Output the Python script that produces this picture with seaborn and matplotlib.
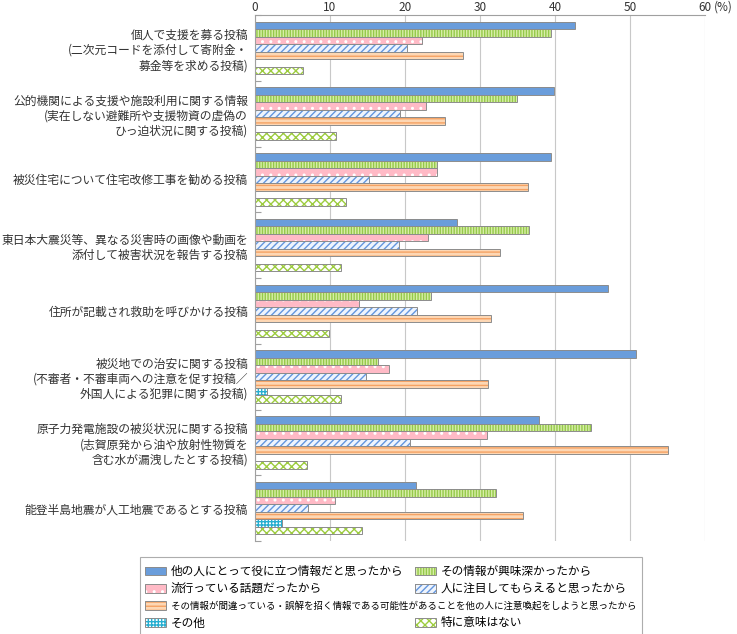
import matplotlib.pyplot as plt
import numpy as np
import pandas as pd
import seaborn as sns
from matplotlib.legend_handler import HandlerPatch
from matplotlib.patches import Patch, Rectangle

categories = [
    '個人で支援を募る投稿\n(二次元コードを添付して寄附金・\n募金等を求める投稿)',
    '公的機関による支援や施設利用に関する情報\n(実在しない避難所や支援物資の虚偽の\nひっ迫状況に関する投稿)',
    '被災住宅について住宅改修工事を勧める投稿',
    '東日本大震災等、異なる災害時の画像や動画を\n添付して被害状況を報告する投稿',
    '住所が記載され救助を呼びかける投稿',
    '被災地での治安に関する投稿\n(不審者・不審車両への注意を促す投稿／\n外国人による犯罪に関する投稿)',
    '原子力発電施設の被災状況に関する投稿\n(志賀原発から油や放射性物質を\n含む水が漏洩したとする投稿)',
    '能登半島地震が人工地震であるとする投稿',
]
reasons = [
    '他の人にとって役に立つ情報だと思ったから',
    'その情報が興味深かったから',
    '流行っている話題だったから',
    '人に注目してもらえると思ったから',
    'その情報が間違っている・誤解を招く情報である可能性があることを他の人に注意喚起をしようと思ったから',
    'その他',
    '特に意味はない',
]

useful = [42.6, 39.9, 39.4, 26.9, 47.1, 50.8, 37.9, 21.4]
interesting = [39.4, 34.9, 24.2, 36.5, 23.5, 16.4, 44.8, 32.1]
trending = [22.3, 22.8, 24.2, 23.1, 13.8, 17.9, 30.9, 10.7]
attention = [20.2, 19.3, 15.2, 19.2, 21.6, 14.8, 20.7, 7.1]
warning = [27.7, 25.3, 36.4, 32.7, 31.4, 31.1, 55.1, 35.7]
other = [0, 0, 0, 0, 0, 1.6, 0, 3.6]
no_reason = [6.4, 10.8, 12.1, 11.4, 9.8, 11.4, 6.9, 14.3]
series = [useful, interesting, trending, attention, warning, other, no_reason]

x_ticks = [0, 10, 20, 30, 40, 50, 60]

# face colour, hatch, hatch colour
styles = [
    ('#6a9ddb', '', '#6a9ddb'),
    ('#d8eea8', '||||||', '#95c94a'),
    ('#ffbac6', '..', 'white'),
    ('#eef4fd', '/////', '#6396df'),
    ('#fdd7b4', '----', '#f5a263'),
    ('white', '+++++', '#27aed0'),
    ('white', 'xxxx', '#9dcc3f'),
]
outline = '#8c8c8c'

plt.rcParams['font.family'] = ['Noto Sans CJK JP', 'DejaVu Sans']
plt.rcParams['hatch.linewidth'] = 1.0

rows = []
for reason, vals in zip(reasons, series):
    for cat, v in zip(categories, vals):
        rows.append({'category': cat, 'reason': reason, 'value': v})
df = pd.DataFrame(rows)

fig = plt.figure(figsize=(7.37, 6.34), dpi=100)
ax = fig.add_axes([255 / 737, 1 - 541 / 634, 450 / 737, 526 / 634])

sns.barplot(data=df, y='category', x='value', hue='reason', order=categories, hue_order=reasons,
            orient='h', width=0.8, saturation=1, legend=False, ax=ax)

for cont, (face, hatch, hcol) in zip(ax.containers, styles):
    for bar in cont:
        bar.set_facecolor(face)
        bar.set_hatch(hatch)
        bar.set_edgecolor(hcol)
        bar.set_linewidth(0)
        if bar.get_width() > 0:
            ax.add_patch(Rectangle(bar.get_xy(), bar.get_width(), bar.get_height(), fill=False,
                                   edgecolor=outline, lw=0.7, zorder=bar.get_zorder() + 0.1))

ax.set_xlim(0, 60)
ax.set_ylim(7.5, -0.5)
ax.set_xticks(x_ticks)
ax.set_xticklabels([str(t) for t in x_ticks])
ax.xaxis.tick_top()
ax.tick_params(axis='x', length=0, pad=0.5, labelsize=8.5, labelcolor='#333333')
ax.annotate('(%)', xy=(1, 1), xycoords='axes fraction', xytext=(9, 1), textcoords='offset pixels',
            ha='left', va='bottom', fontsize=8.5, color='#333333')
ax.grid(axis='x', color='#c8c8c8', lw=0.8)
ax.set_axisbelow(True)
ax.set_xlabel('')
ax.set_ylabel('')

ax.set_yticks(range(len(categories)))
ax.set_yticklabels(categories, fontsize=8.5, color='#333333', linespacing=1.22)
ax.set_yticks(np.arange(-0.5, len(categories), 1), minor=True)
ax.tick_params(axis='y', which='major', length=0, pad=5)
ax.tick_params(axis='y', which='minor', length=4, direction='in', color='#a0a0a0', width=0.8)

for side in ['right', 'bottom']:
    ax.spines[side].set_visible(False)
for side in ['top', 'left']:
    ax.spines[side].set_color('#a0a0a0')
    ax.spines[side].set_linewidth(0.8)


def small_box(legend, orig_handle, xdescent, ydescent, width, height, fontsize):
    h = 0.75 * fontsize
    return Rectangle((-xdescent, -ydescent + (height - h) / 2), width, h)


def handle(i):
    face, hatch, hcol = styles[i]
    return (Patch(facecolor=face, hatch=hatch, edgecolor=hcol, lw=0),
            Patch(facecolor='none', edgecolor=outline, lw=0.7))


leg_kw = dict(loc='upper left', fontsize=8.4, handlelength=1.75, handleheight=1.9,
              handletextpad=0.45, labelspacing=0.0, borderpad=0.45, borderaxespad=0,
              handler_map={Patch: HandlerPatch(patch_func=small_box)})
leg_a = fig.legend([handle(0), handle(2), handle(4), handle(5)],
                   [reasons[0], reasons[2], reasons[4], reasons[5]],
                   bbox_to_anchor=(140 / 737, 1 - 557 / 634), frameon=True, fancybox=False,
                   edgecolor='#999999', **leg_kw)
leg_a.get_frame().set_linewidth(0.8)
leg_a.get_texts()[2].set_fontsize(6.8)

blank = Patch(facecolor='none', edgecolor='none')
leg_b = fig.legend([handle(1), handle(3), blank, handle(6)],
                   [reasons[1], reasons[3], ' ', reasons[6]],
                   bbox_to_anchor=(410 / 737, 1 - 557 / 634), frameon=False, **leg_kw)
leg_b.get_texts()[2].set_fontsize(6.8)

fig.savefig('out.png', dpi=100)
